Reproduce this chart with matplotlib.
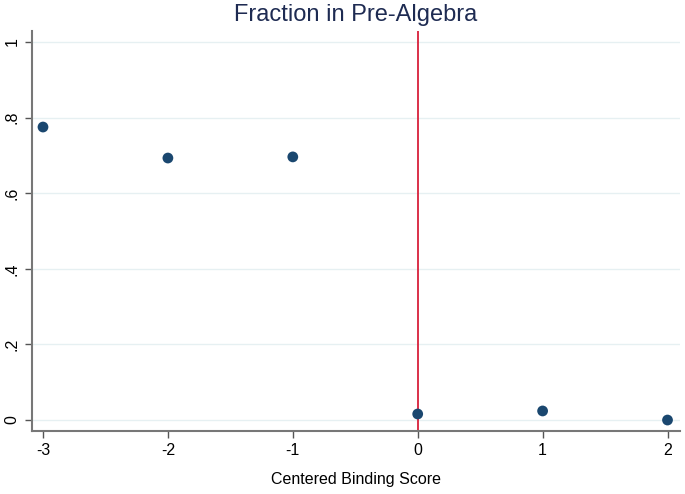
import matplotlib
matplotlib.use("Agg")
import matplotlib.pyplot as plt

plt.rcParams["font.family"] = ["Liberation Sans", "DejaVu Sans"]

scores = [-3, -2, -1, 0, 1, 2]
fractions = [0.775, 0.693, 0.696, 0.016, 0.024, 0.0]
yticks = [0, 0.2, 0.4, 0.6, 0.8, 1.0]
ytick_labels = ["0", ".2", ".4", ".6", ".8", "1"]
title = "Fraction in Pre-Algebra"
xlabel = "Centered Binding Score"

fig = plt.figure(figsize=(6.85, 4.94), dpi=100)
ax = fig.add_axes([32 / 685, 1 - 431 / 494, 648 / 685, 400 / 494])

for y in yticks:
    ax.axhline(y, color="#e6f0f2", lw=1, zorder=0)
ax.axvline(0, color="#d8203a", lw=1.3, zorder=1)
ax.scatter(scores, fractions, s=60, color="#1a476f", zorder=3, edgecolors="none")

ax.set_xlim(-3.088, 2.1)
ax.set_ylim(-0.029, 1.029)
ax.set_xticks(scores)
ax.set_xticklabels([str(s) for s in scores])
ax.set_yticks(yticks)
ax.set_yticklabels(ytick_labels, rotation=90, va="center")

for side in ["top", "right"]:
    ax.spines[side].set_visible(False)
for side in ["left", "bottom"]:
    ax.spines[side].set_color("#777777")
    ax.spines[side].set_linewidth(1.5)
ax.tick_params(axis="both", colors="#555555", length=5, width=1, labelsize=11.5,
               labelcolor="black")
ax.tick_params(axis="y", pad=4)

fig.text(356 / 685, 1 - 15 / 494, title, ha="center", va="center",
         fontsize=17, color="#1e2b52")
ax.set_xlabel(xlabel, fontsize=11.5, labelpad=10)

fig.savefig("out.png", dpi=100)
